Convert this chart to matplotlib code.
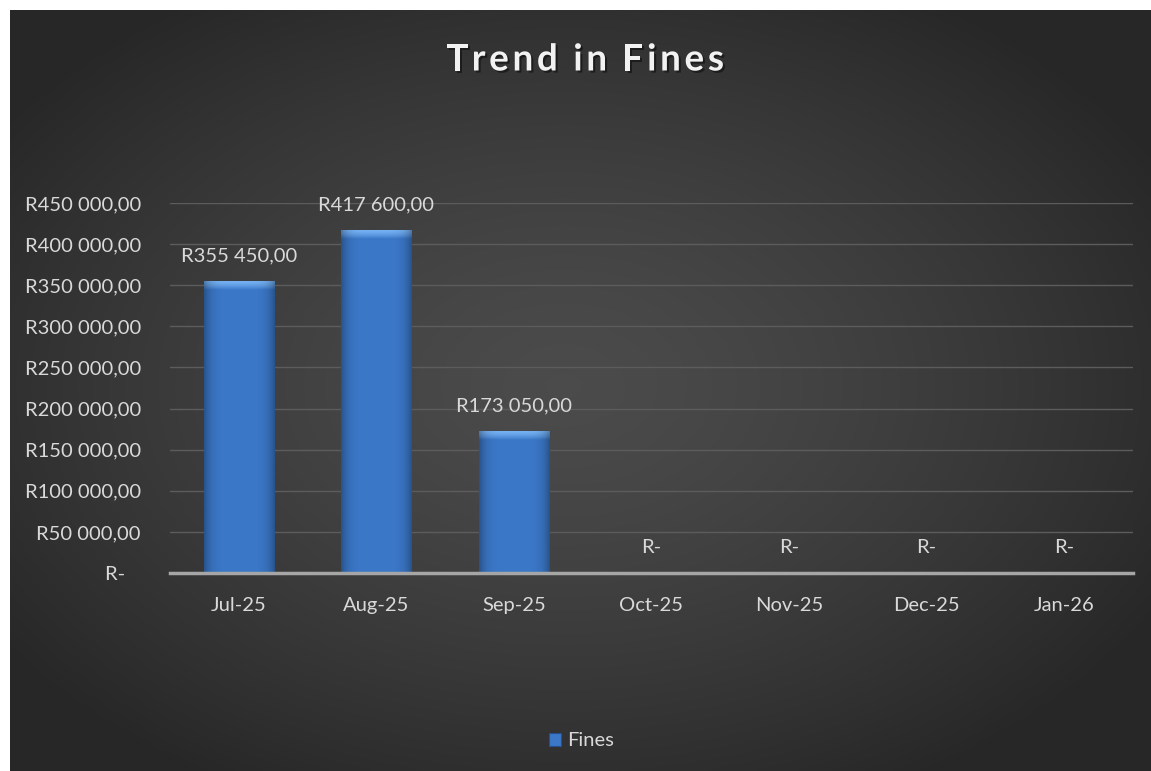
import numpy as np
import matplotlib
matplotlib.use("Agg")
import matplotlib.pyplot as plt
from matplotlib.patches import Patch, Rectangle
from matplotlib import patheffects

# Monthly fines (Rand)
months = ["Jul-25", "Aug-25", "Sep-25", "Oct-25", "Nov-25", "Dec-25", "Jan-26"]
fines = [355450.00, 417600.00, 173050.00, 0.0, 0.0, 0.0, 0.0]
y_ticks = [0, 50000, 100000, 150000, 200000, 250000, 300000, 350000, 400000, 450000]
title = "Trend in Fines"

TEXT = "#d9d9d9"
BAR = "#3b78c8"


def rand(v):
    # accounting style: R417 600,00 / R-
    if v == 0:
        return "R-"
    s = f"{v:,.2f}"
    return "R" + s.replace(",", " ").replace(".", ",")


plt.rcParams["font.family"] = ["Lato", "DejaVu Sans"]

W, H, DPI = 1151, 771, 100
fig = plt.figure(figsize=(W / DPI, H / DPI), dpi=DPI, facecolor="#2a2a2a")

# dark radial background panel
bg = fig.add_axes([0, 0, 1, 1])
bg.set_axis_off()
gx, gy = np.meshgrid(np.linspace(-1, 1, 600), np.linspace(-1, 1, 400))
r = np.sqrt((gx + 0.02) ** 2 + gy ** 2)
shade = np.clip(0.295 - 0.11 * r ** 1.4, 0.155, 0.30)
bg.imshow(np.dstack([shade] * 3), extent=[0, 1, 0, 1], aspect="auto", interpolation="bilinear")
bg.set_xlim(0, 1)
bg.set_ylim(0, 1)
# white strip along top and left edge
fig.add_artist(Rectangle((0, 1 - 10 / H), 1, 10 / H, transform=fig.transFigure,
                         facecolor="white", edgecolor="none", zorder=5))
fig.add_artist(Rectangle((0, 0), 10 / W, 1, transform=fig.transFigure,
                         facecolor="white", edgecolor="none", zorder=5))

ax = fig.add_axes([170 / W, 1 - 573 / H, (1133 - 170) / W, (573 - 203) / H])
ax.set_facecolor("none")
x = np.arange(len(months))

ax.set_yticks(y_ticks)
ax.set_yticklabels([rand(v) + ("   " if v == 0 else "") for v in y_ticks])
ax.set_xticks(x)
ax.set_xticklabels(months)
ax.tick_params(axis="both", length=0, colors=TEXT, labelsize=14.5)
ax.tick_params(axis="y", pad=21)
ax.tick_params(axis="x", pad=17)
for s in ["top", "right", "left"]:
    ax.spines[s].set_visible(False)
ax.spines["bottom"].set_color("#a6a6a6")
ax.spines["bottom"].set_linewidth(2.5)
ax.yaxis.grid(True, color="#5c5c5c", linewidth=1)
ax.set_axisbelow(True)

bw = 0.51
bars = ax.bar(x, fines, width=bw, color=BAR, edgecolor="#24508f", linewidth=0.8, zorder=2)

# horizontal shading inside each bar, plus a lighter rounded bevel on top
px_y = 450000 / (573 - 203)
grad = np.linspace(-1, 1, 64)
side = 1 - 0.30 * np.abs(grad) ** 5
base = np.array(matplotlib.colors.to_rgb(BAR))
body = np.clip(base[None, None, :] * side[None, :, None], 0, 1)
light = np.array(matplotlib.colors.to_rgb("#74b0f2"))
t = np.linspace(0, 1, 16)[:, None, None] ** 1.5
top_img = light[None, None, :] * (1 - t) + base[None, None, :] * t
top_img = np.clip(top_img * side[None, :, None], 0, 1)
for rect, v in zip(bars, fines):
    if v <= 0:
        continue
    x0, w = rect.get_x(), rect.get_width()
    im = ax.imshow(body, extent=[x0, x0 + w, 0, v], aspect="auto", zorder=2.1,
                   interpolation="bilinear")
    im.set_clip_path(rect)
    im2 = ax.imshow(top_img, extent=[x0, x0 + w, v - 9 * px_y, v], aspect="auto",
                    zorder=2.2, interpolation="bilinear", origin="upper")
    im2.set_clip_path(rect)
ax.set_xlim(-0.5, len(months) - 0.5)
ax.set_ylim(0, 450000)

for xi, v in zip(x, fines):
    ax.annotate(rand(v), (xi, v), xytext=(0, 12), textcoords="offset points",
                ha="center", va="bottom", color=TEXT, fontsize=14.5, zorder=3)

# letter-spaced bold title
renderer = fig.canvas.get_renderer()
shadow = [patheffects.withSimplePatchShadow(offset=(1.5, -1.5), shadow_rgbFace="black", alpha=0.45)]
chars = [fig.text(0, 1 - 60 / H, c, ha="left", va="center", color="#f2f2f2",
                  fontsize=26.5, fontweight="bold", path_effects=shadow) for c in title]
widths = [c.get_window_extent(renderer).width if ch != " " else 8.0 for c, ch in zip(chars, title)]
target = 278.0
gap = (target - sum(widths)) / (len(title) - 1)
xpos = 585 - target / 2
for c, wdt in zip(chars, widths):
    c.set_x(xpos / W)
    xpos += wdt + gap

handle = Patch(facecolor=BAR, edgecolor="#24508f", linewidth=0.8)
fig.legend(handles=[handle], labels=["Fines"], loc="center",
           bbox_to_anchor=(0.505, 1 - 741 / H), frameon=False,
           handlelength=0.6, handleheight=0.6, handletextpad=0.3,
           labelcolor=TEXT, fontsize=14.5)

fig.savefig("out.png", dpi=DPI)
